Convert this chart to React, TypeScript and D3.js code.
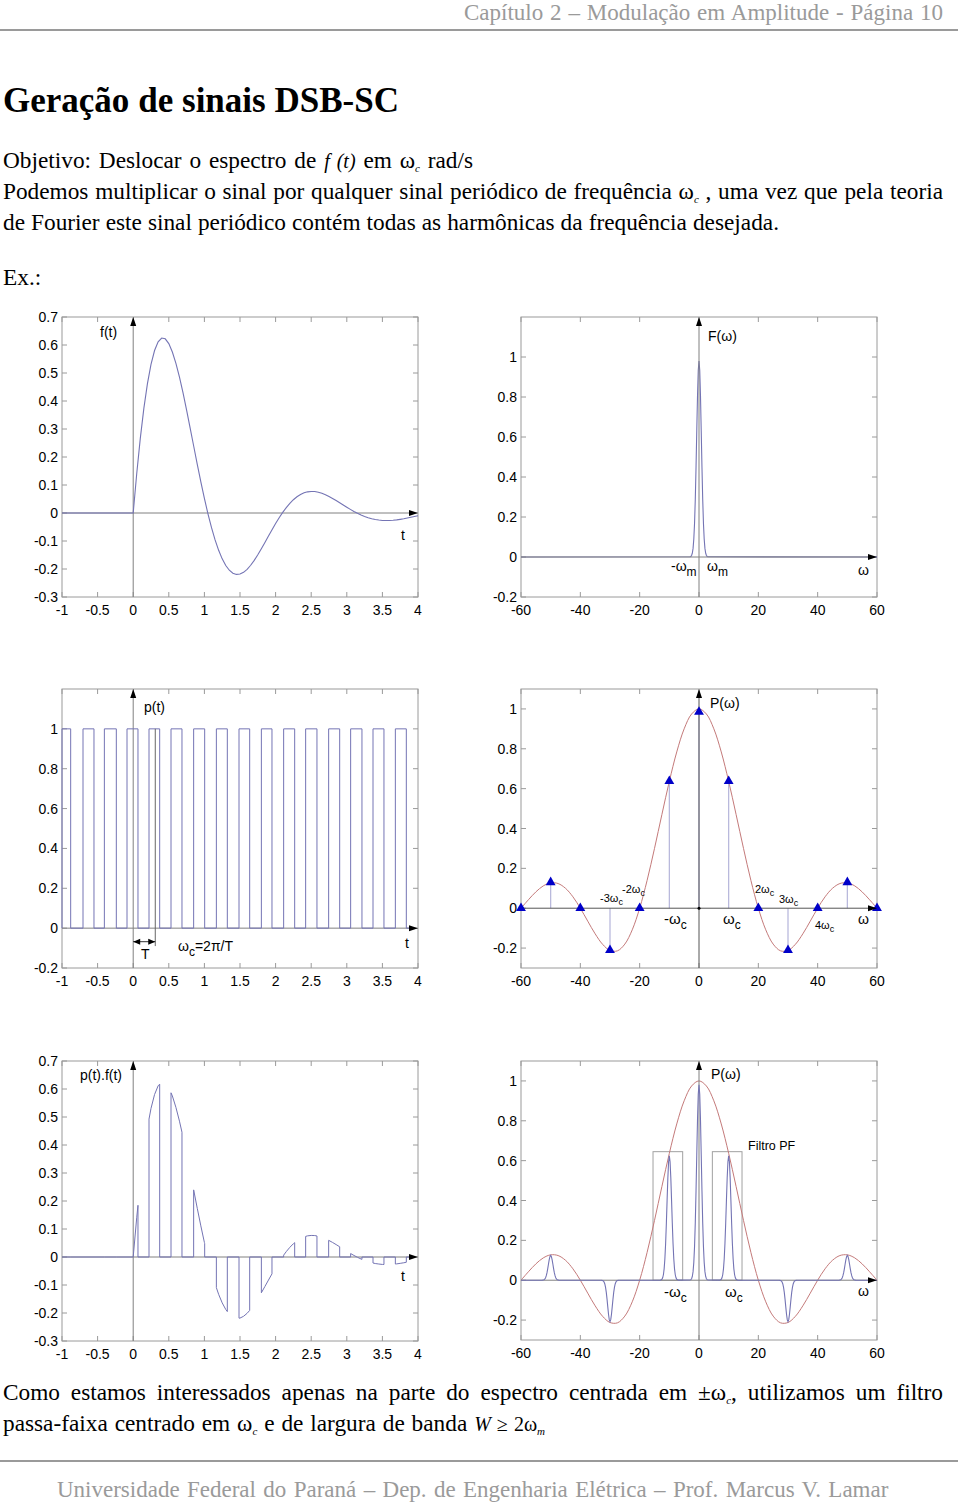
import React, { useEffect, useRef } from "react";
import * as d3 from "d3";

// ---------- data ----------
// f(t) samples, t = 0 .. 4 in steps of 0.05 (f = 0 for t < 0)
const fValues = [
  0, 0.1421, 0.2674, 0.3744, 0.4623, 0.5308, 0.5803, 0.6113, 0.6247, 0.6221,
  0.605, 0.5751, 0.5344, 0.485, 0.4287, 0.3676, 0.3035, 0.2384, 0.1738, 0.1112,
  0.0519, -0.0029, -0.0525, -0.0961, -0.1333, -0.1638, -0.1874, -0.2044, -0.2149, -0.2193,
  -0.2181, -0.2118, -0.2011, -0.1867, -0.1691, -0.1493, -0.1277, -0.1052, -0.0824, -0.0598,
  -0.0378, -0.0171, 0.0021, 0.0193, 0.0345, 0.0474, 0.058, 0.0661, 0.072, 0.0756,
  0.077, 0.0766, 0.0742, 0.0703, 0.0652, 0.0589, 0.052, 0.0444, 0.0365, 0.0284,
  0.0205, 0.0129, 0.0056, -0.0011, -0.0071, -0.0124, -0.0169, -0.0205, -0.0233, -0.0251,
  -0.0266, -0.027, -0.0268, -0.026, -0.0246, -0.0227, -0.0206, -0.0181, -0.0154, -0.0127, -0.0098,
];
const fStep = 0.05;
const fTimes = fValues.map((_, i) => i * fStep);

// pulse train p(t): high intervals
const pulseStart = [-1, -0.705, -0.405, -0.087, 0.222, 0.531, 0.849, 1.168, 1.486, 1.8, 2.113, 2.422, 2.745, 3.054, 3.368, 3.682];
const pulseEnd = [-0.878, -0.551, -0.237, 0.067, 0.372, 0.685, 1.004, 1.322, 1.636, 1.949, 2.268, 2.581, 2.9, 3.213, 3.522, 3.836];
const periodT = 0.31;

// F(w): narrow peak around 0
const FOffsets = [-3, -2.75, -2.5, -2.25, -2, -1.75, -1.5, -1.25, -1, -0.75, -0.5, -0.25, 0, 0.25, 0.5, 0.75, 1, 1.25, 1.5, 1.75, 2, 2.25, 2.5, 2.75, 3];
const FValues = [0.0009, 0.0027, 0.0074, 0.0188, 0.043, 0.0896, 0.169, 0.289, 0.449, 0.631, 0.806, 0.933, 0.98, 0.933, 0.806, 0.631, 0.449, 0.289, 0.169, 0.0896, 0.043, 0.0188, 0.0074, 0.0027, 0.0009];

// P(w) envelope, w = -60 .. 60 step 2.5
const envW = [-60, -57.5, -55, -52.5, -50, -47.5, -45, -42.5, -40, -37.5, -35, -32.5, -30, -27.5, -25, -22.5, -20, -17.5, -15, -12.5, -10, -7.5, -5, -2.5, 0, 2.5, 5, 7.5, 10, 12.5, 15, 17.5, 20, 22.5, 25, 27.5, 30, 32.5, 35, 37.5, 40, 42.5, 45, 47.5, 50, 52.5, 55, 57.5, 60];
const envV = [0, 0.0424, 0.0818, 0.112, 0.1273, 0.1238, 0.1, 0.0573, 0, -0.065, -0.1286, -0.181, -0.2122, -0.2139, -0.1801, -0.1083, 0, 0.1392, 0.3001, 0.4705, 0.6366, 0.7842, 0.9003, 0.9745, 1, 0.9745, 0.9003, 0.7842, 0.6366, 0.4705, 0.3001, 0.1392, 0, -0.1083, -0.1801, -0.2139, -0.2122, -0.181, -0.1286, -0.065, 0, 0.0573, 0.1, 0.1238, 0.1273, 0.112, 0.0818, 0.0424, 0];

// P(w) line spectrum (stems with triangles)
const stemW = [-60, -50, -40, -30, -20, -10, 0, 10, 20, 30, 40, 50, 60];
const stemV = [0, 0.13, 0, -0.21, 0, 0.637, 0.985, 0.637, 0, -0.21, 0, 0.13, 0];

// spectrum of p(t).f(t): shifted copies of F
const peakCenters = [-50, -30, -10, 0, 10, 30, 50];
const peakGain = [0.127, -0.212, 0.637, 1, 0.637, -0.212, 0.127];

// band-pass filter
const filterLo = [-15.5, 4.5];
const filterHi = [-5.5, 14.5];
const filterGain = 0.645;

// ticks
const tTicks = [-1, -0.5, 0, 0.5, 1, 1.5, 2, 2.5, 3, 3.5, 4];
const fTicks = [-0.3, -0.2, -0.1, 0, 0.1, 0.2, 0.3, 0.4, 0.5, 0.6, 0.7];
const wTicks = [-60, -40, -20, 0, 20, 40, 60];
const specTicks = [-0.2, 0, 0.2, 0.4, 0.6, 0.8, 1];

// ---------- styling ----------
const SERIF = "'Liberation Serif', 'Times New Roman', serif";
const SANS = "'Liberation Sans', Arial, Helvetica, sans-serif";
const FRAME = "#9a9a9a";
const AXIS = "#808080";
const BLUE = "#7474b4";
const RED = "#c47a7a";
const STEM = "#b4b4da";
const MARK = "#0000c8";
const BODY = 23.3;

type Box = { x0: number; y0: number; x1: number; y1: number };

function fAt(t: number) {
  if (t <= 0) return 0;
  const u = t / fStep;
  const i = Math.floor(u);
  if (i >= fValues.length - 1) return fValues[fValues.length - 1];
  const r = u - i;
  return fValues[i] * (1 - r) + fValues[i + 1] * r;
}

function Frame({ b, xs, ys, xTicks, yTicks }: any) {
  return (
    <g fontFamily={SANS} fontSize={14} fill="#000">
      <rect x={b.x0} y={b.y0} width={b.x1 - b.x0} height={b.y1 - b.y0} fill="none" stroke={FRAME} strokeWidth={1} />
      {xTicks.map((t: number) => (
        <g key={"x" + t}>
          <line x1={xs(t)} x2={xs(t)} y1={b.y1} y2={b.y1 - 5} stroke={FRAME} />
          <line x1={xs(t)} x2={xs(t)} y1={b.y0} y2={b.y0 + 5} stroke={FRAME} />
          <text x={xs(t)} y={b.y1 + 18} textAnchor="middle">{String(t)}</text>
        </g>
      ))}
      {yTicks.map((t: number) => (
        <g key={"y" + t}>
          <line x1={b.x0} x2={b.x0 + 5} y1={ys(t)} y2={ys(t)} stroke={FRAME} />
          <line x1={b.x1} x2={b.x1 - 5} y1={ys(t)} y2={ys(t)} stroke={FRAME} />
          <text x={b.x0 - 4} y={ys(t) + 5} textAnchor="end">{String(t)}</text>
        </g>
      ))}
    </g>
  );
}

function Axes({ b, xs, ys, color = AXIS }: any) {
  const x0 = xs(0);
  const y0 = ys(0);
  return (
    <g>
      <line x1={b.x0} x2={b.x1 - 6} y1={y0} y2={y0} stroke={color} strokeWidth={1} />
      <line x1={x0} x2={x0} y1={b.y1} y2={b.y0 + 6} stroke={color} strokeWidth={1} />
    </g>
  );
}

function Arrows({ b, xs, ys }: any) {
  const x0 = xs(0);
  const y0 = ys(0);
  return (
    <g fill="#000">
      <path d={`M${b.x1},${y0} L${b.x1 - 9},${y0 - 3} L${b.x1 - 9},${y0 + 3} Z`} />
      <path d={`M${x0},${b.y0} L${x0 - 3},${b.y0 + 9} L${x0 + 3},${b.y0 + 9} Z`} />
    </g>
  );
}

export default function App() {
  const ref = useRef<SVGSVGElement>(null);

  useEffect(() => {
    const svg = d3.select(ref.current);
    svg.selectAll("text[data-w]").each(function (this: any) {
      const el = this as SVGTextElement;
      const target = +(el.getAttribute("data-w") || 0);
      el.style.wordSpacing = "0px";
      const w = el.getComputedTextLength();
      const n = (el.textContent || "").split(" ").length - 1;
      if (n > 0) el.style.wordSpacing = (target - w) / n + "px";
    });
  }, []);

  // boxes
  const b1: Box = { x0: 62, y0: 317, x1: 418, y1: 597 };
  const b2: Box = { x0: 521, y0: 317, x1: 877, y1: 597 };
  const b3: Box = { x0: 62, y0: 689, x1: 418, y1: 968 };
  const b4: Box = { x0: 521, y0: 689, x1: 877, y1: 968 };
  const b5: Box = { x0: 62, y0: 1061, x1: 418, y1: 1341 };
  const b6: Box = { x0: 521, y0: 1061, x1: 877, y1: 1340 };

  const xs1 = d3.scaleLinear().domain([-1, 4]).range([b1.x0, b1.x1]);
  const ys1 = d3.scaleLinear().domain([-0.3, 0.7]).range([b1.y1, b1.y0]);
  const xs2 = d3.scaleLinear().domain([-60, 60]).range([b2.x0, b2.x1]);
  const ys2 = d3.scaleLinear().domain([-0.2, 1.2]).range([b2.y1, b2.y0]);
  const xs3 = d3.scaleLinear().domain([-1, 4]).range([b3.x0, b3.x1]);
  const ys3 = d3.scaleLinear().domain([-0.2, 1.2]).range([b3.y1, b3.y0]);
  const xs4 = d3.scaleLinear().domain([-60, 60]).range([b4.x0, b4.x1]);
  const ys4 = d3.scaleLinear().domain([-0.3, 1.1]).range([b4.y1, b4.y0]);
  const xs5 = d3.scaleLinear().domain([-1, 4]).range([b5.x0, b5.x1]);
  const ys5 = d3.scaleLinear().domain([-0.3, 0.7]).range([b5.y1, b5.y0]);
  const xs6 = d3.scaleLinear().domain([-60, 60]).range([b6.x0, b6.x1]);
  const ys6 = d3.scaleLinear().domain([-0.3, 1.1]).range([b6.y1, b6.y0]);

  // f(t)
  const fPts: [number, number][] = [[-1, 0], ...fTimes.map((t, i) => [t, fValues[i]] as [number, number])];
  const line1 = d3.line<[number, number]>().x((d) => xs1(d[0])).y((d) => ys1(d[1]));

  // F(w)
  const FPts: [number, number][] = [[-60, 0], ...FOffsets.map((o, i) => [o, FValues[i]] as [number, number]), [60, 0]];
  const line2 = d3.line<[number, number]>().x((d) => xs2(d[0])).y((d) => ys2(d[1]));

  // p(t)
  const pPts: [number, number][] = [];
  pulseStart.forEach((a, i) => {
    const b = pulseEnd[i];
    pPts.push([a, 0], [a, 1], [b, 1], [b, 0]);
  });
  pPts.push([3.9, 0]);
  const line3 = d3.line<[number, number]>().x((d) => xs3(d[0])).y((d) => ys3(d[1]));

  // P(w)
  const envPts: [number, number][] = envW.map((w, i) => [w, envV[i]]);
  const line4 = d3.line<[number, number]>().x((d) => xs4(d[0])).y((d) => ys4(d[1])).curve(d3.curveCatmullRom);
  const tri = d3.symbol().type(d3.symbolTriangle).size(42)();

  // p(t).f(t)
  const pfPts: [number, number][] = [[-1, 0]];
  pulseStart.forEach((a, i) => {
    const b = pulseEnd[i];
    pfPts.push([a, 0], [a, fAt(a)]);
    fTimes.forEach((t) => {
      if (t > a && t < b) pfPts.push([t, fAt(t)]);
    });
    pfPts.push([b, fAt(b)], [b, 0]);
  });
  pfPts.push([3.9, 0]);
  const line5 = d3.line<[number, number]>().x((d) => xs5(d[0])).y((d) => ys5(d[1]));

  // spectrum of product
  const specPts: [number, number][] = [[-60, 0]];
  peakCenters.forEach((c, k) => {
    FOffsets.forEach((o, i) => specPts.push([c + o, peakGain[k] * FValues[i]]));
  });
  specPts.push([60, 0]);
  const line6 = d3.line<[number, number]>().x((d) => xs6(d[0])).y((d) => ys6(d[1]));
  const env6 = d3.line<[number, number]>().x((d) => xs6(d[0])).y((d) => ys6(d[1])).curve(d3.curveCatmullRom);

  const tY = ys3(-0.068);

  return (
    <svg ref={ref} width={960} height={1504} style={{ position: "absolute", left: 0, top: 0, display: "block", background: "#fff" }}>
      <rect x={0} y={0} width={960} height={1504} fill="#fff" />

      {/* header */}
      <text data-w={479} x={464} y={20} fontFamily={SERIF} fontSize={23} fill="#9a9a9a">Capítulo 2 – Modulação em Amplitude - Página 10</text>
      <line x1={0} x2={958} y1={30} y2={30} stroke="#9a9a9a" strokeWidth={2} />

      <text data-w={396} x={3} y={112} fontFamily={SERIF} fontSize={35} fontWeight="bold" fill="#000">Geração de sinais DSB-SC</text>

      <g fontFamily={SERIF} fontSize={BODY} fill="#000">
        <text data-w={470} x={3} y={168}>
          Objetivo: Deslocar o espectro de <tspan fontStyle="italic" fontSize={20}>f (t)</tspan> em ω<tspan dy={4} fontSize={11} fontStyle="italic">c</tspan><tspan dy={-4}> rad/s</tspan>
        </text>
        <text data-w={940} x={3} y={199}>
          Podemos multiplicar o sinal por qualquer sinal periódico de frequência ω<tspan dy={4} fontSize={11} fontStyle="italic">c</tspan><tspan dy={-4}> , uma vez que pela teoria</tspan>
        </text>
        <text data-w={776} x={3} y={230}>de Fourier este sinal periódico contém todas as harmônicas da frequência desejada.</text>
        <text x={3} y={285}>Ex.:</text>

        <text data-w={940} x={3} y={1400}>
          Como estamos interessados apenas na parte do espectro centrada em ±ω<tspan dy={4} fontSize={11} fontStyle="italic">c</tspan><tspan dy={-4}>, utilizamos um filtro</tspan>
        </text>
        <text data-w={542} x={3} y={1431}>
          passa-faixa centrado em ω<tspan dy={4} fontSize={11} fontStyle="italic">c</tspan><tspan dy={-4}> e de largura de banda </tspan><tspan fontStyle="italic" fontSize={20}>W</tspan><tspan fontSize={20}> ≥ 2ω</tspan><tspan dy={4} fontSize={11} fontStyle="italic">m</tspan>
        </text>
      </g>

      <line x1={0} x2={958} y1={1461} y2={1461} stroke="#9a9a9a" strokeWidth={2} />
      <text data-w={833} x={57} y={1497} fontFamily={SERIF} fontSize={23} fill="#9a9a9a">Universidade Federal do Paraná – Dep. de Engenharia Elétrica – Prof. Marcus V.  Lamar</text>

      {/* Plot 1: f(t) */}
      <Frame b={b1} xs={xs1} ys={ys1} xTicks={tTicks} yTicks={fTicks} />
      <Axes b={b1} xs={xs1} ys={ys1} />
      <path d={line1(fPts) || ""} fill="none" stroke={BLUE} strokeWidth={1.1} />
      <Arrows b={b1} xs={xs1} ys={ys1} />
      <g fontFamily={SANS} fontSize={14} fill="#000">
        <text x={100} y={337}>f(t)</text>
        <text x={401} y={540}>t</text>
      </g>

      {/* Plot 2: F(w) */}
      <Frame b={b2} xs={xs2} ys={ys2} xTicks={wTicks} yTicks={specTicks} />
      <path d={line2(FPts) || ""} fill="none" stroke={BLUE} strokeWidth={1.1} />
      <Axes b={b2} xs={xs2} ys={ys2} />
      <Arrows b={b2} xs={xs2} ys={ys2} />
      <g fontFamily={SANS} fontSize={14} fill="#000">
        <text x={708} y={341}>F(ω)</text>
        <text x={671} y={571}>-ω<tspan dy={5} fontSize={12}>m</tspan></text>
        <text x={707} y={571}>ω<tspan dy={5} fontSize={12}>m</tspan></text>
        <text x={858} y={575}>ω</text>
      </g>

      {/* Plot 3: p(t) */}
      <Frame b={b3} xs={xs3} ys={ys3} xTicks={tTicks} yTicks={specTicks} />
      <Axes b={b3} xs={xs3} ys={ys3} />
      <path d={line3(pPts) || ""} fill="none" stroke={BLUE} strokeWidth={1} />
      <line x1={xs3(periodT)} x2={xs3(periodT)} y1={ys3(1)} y2={ys3(-0.09)} stroke="#666" strokeWidth={1} />
      <line x1={xs3(0)} x2={xs3(periodT)} y1={tY} y2={tY} stroke="#333" strokeWidth={1} />
      <path d={`M${xs3(0)},${tY} L${xs3(0) + 7},${tY - 3} L${xs3(0) + 7},${tY + 3} Z`} fill="#000" />
      <path d={`M${xs3(periodT)},${tY} L${xs3(periodT) - 7},${tY - 3} L${xs3(periodT) - 7},${tY + 3} Z`} fill="#000" />
      <Arrows b={b3} xs={xs3} ys={ys3} />
      <g fontFamily={SANS} fontSize={14} fill="#000">
        <text x={144} y={712}>p(t)</text>
        <text x={141} y={959}>T</text>
        <text x={178} y={951}>ω<tspan dy={5} fontSize={12}>c</tspan><tspan dy={-5}>=2π/T</tspan></text>
        <text x={405} y={948}>t</text>
      </g>

      {/* Plot 4: P(w) */}
      <Frame b={b4} xs={xs4} ys={ys4} xTicks={wTicks} yTicks={specTicks} />
      <path d={line4(envPts) || ""} fill="none" stroke={RED} strokeWidth={1} />
      {stemW.map((w, i) => (
        <line key={"s" + w} x1={xs4(w)} x2={xs4(w)} y1={ys4(0)} y2={ys4(stemV[i])} stroke={STEM} strokeWidth={1.2} />
      ))}
      <Axes b={b4} xs={xs4} ys={ys4} color="#555" />
      {stemW.map((w, i) => (
        <path key={"m" + w} d={tri || ""} transform={`translate(${xs4(w)},${ys4(stemV[i])})`} fill={MARK} />
      ))}
      <circle cx={xs4(0)} cy={ys4(0)} r={1.5} fill="#000" />
      <Arrows b={b4} xs={xs4} ys={ys4} />
      <g fontFamily={SANS} fontSize={14} fill="#000">
        <text x={710} y={708}>P(ω)</text>
        <text x={600} y={902} fontSize={11}>-3ω<tspan dy={3} fontSize={9}>c</tspan></text>
        <text x={622} y={893} fontSize={11}>-2ω<tspan dy={3} fontSize={9}>c</tspan></text>
        <text x={664} y={924} fontSize={15}>-ω<tspan dy={5} fontSize={12}>c</tspan></text>
        <text x={723} y={924} fontSize={15}>ω<tspan dy={5} fontSize={12}>c</tspan></text>
        <text x={755} y={893} fontSize={11}>2ω<tspan dy={3} fontSize={9}>c</tspan></text>
        <text x={779} y={903} fontSize={11}>3ω<tspan dy={3} fontSize={9}>c</tspan></text>
        <text x={815} y={929} fontSize={11}>4ω<tspan dy={3} fontSize={9}>c</tspan></text>
        <text x={858} y={924}>ω</text>
      </g>

      {/* Plot 5: p(t).f(t) */}
      <Frame b={b5} xs={xs5} ys={ys5} xTicks={tTicks} yTicks={fTicks} />
      <Axes b={b5} xs={xs5} ys={ys5} />
      <path d={line5(pfPts) || ""} fill="none" stroke={BLUE} strokeWidth={1} />
      <Arrows b={b5} xs={xs5} ys={ys5} />
      <g fontFamily={SANS} fontSize={14} fill="#000">
        <text x={80} y={1080}>p(t).f(t)</text>
        <text x={401} y={1281}>t</text>
      </g>

      {/* Plot 6: spectrum with filter */}
      <Frame b={b6} xs={xs6} ys={ys6} xTicks={wTicks} yTicks={specTicks} />
      {filterLo.map((lo, i) => (
        <rect key={"f" + i} x={xs6(lo)} y={ys6(filterGain)} width={xs6(filterHi[i]) - xs6(lo)} height={ys6(0) - ys6(filterGain)} fill="none" stroke="#a0a0a0" strokeWidth={1} />
      ))}
      <path d={env6(envPts) || ""} fill="none" stroke={RED} strokeWidth={1} />
      <Axes b={b6} xs={xs6} ys={ys6} />
      <path d={line6(specPts) || ""} fill="none" stroke={BLUE} strokeWidth={1.1} />
      <Arrows b={b6} xs={xs6} ys={ys6} />
      <g fontFamily={SANS} fontSize={14} fill="#000">
        <text x={711} y={1079}>P(ω)</text>
        <text x={748} y={1150} fontSize={12.5}>Filtro PF</text>
        <text x={664} y={1297} fontSize={15}>-ω<tspan dy={5} fontSize={12}>c</tspan></text>
        <text x={725} y={1297} fontSize={15}>ω<tspan dy={5} fontSize={12}>c</tspan></text>
        <text x={858} y={1296}>ω</text>
      </g>
    </svg>
  );
}
